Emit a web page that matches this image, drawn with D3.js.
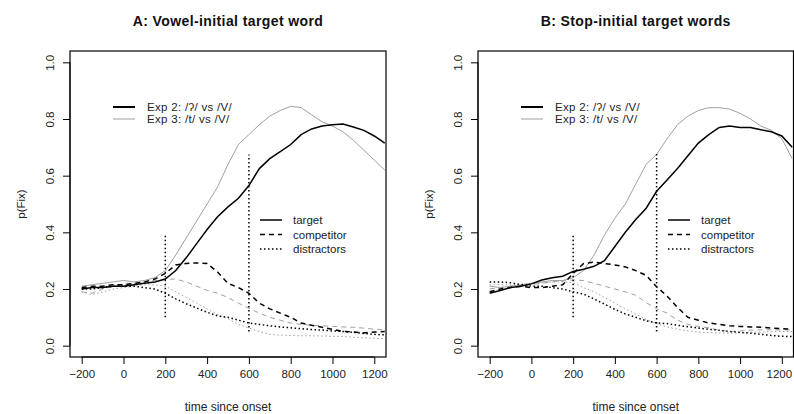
<!DOCTYPE html>
<html>
<head>
<meta charset="utf-8">
<script src="https://cdn.jsdelivr.net/npm/d3@7"></script>
<style>
  body { margin: 0; background: #fff; }
  svg { display: block; font-family: "Liberation Sans", Arial, sans-serif; }
</style>
</head>
<body>
<svg width="794" height="414"></svg>
<script>
// time since onset (ms), one sample every 50 ms
const times = [-200, -150, -100, -50, 0, 50, 100, 150, 200, 250, 300, 350, 400, 450, 500,
    550, 600, 650, 700, 750, 800, 850, 900, 950, 1000, 1050, 1100, 1150, 1200, 1250];

// panel A: vowel-initial target word
const aTarget2 = [0.20, 0.205, 0.205, 0.21, 0.21, 0.215, 0.22, 0.225, 0.235, 0.265, 0.31, 0.36, 0.41, 0.455, 0.49,
    0.52, 0.565, 0.625, 0.66, 0.685, 0.71, 0.745, 0.765, 0.775, 0.78, 0.782, 0.772, 0.76, 0.74, 0.715];
const aTarget3 = [0.21, 0.215, 0.22, 0.225, 0.23, 0.225, 0.23, 0.24, 0.265, 0.32, 0.38, 0.44, 0.50, 0.56, 0.64,
    0.71, 0.745, 0.78, 0.81, 0.83, 0.845, 0.84, 0.815, 0.79, 0.775, 0.755, 0.725, 0.69, 0.655, 0.62];
const aComp2 = [0.205, 0.21, 0.21, 0.215, 0.215, 0.22, 0.225, 0.235, 0.255, 0.285, 0.29, 0.292, 0.29, 0.26, 0.22,
    0.205, 0.185, 0.15, 0.13, 0.115, 0.10, 0.08, 0.072, 0.065, 0.058, 0.05, 0.048, 0.045, 0.048, 0.05];
const aComp3 = [0.19, 0.185, 0.20, 0.21, 0.215, 0.22, 0.225, 0.23, 0.235, 0.235, 0.225, 0.21, 0.195, 0.185, 0.17,
    0.15, 0.132, 0.115, 0.10, 0.09, 0.08, 0.075, 0.072, 0.07, 0.068, 0.066, 0.065, 0.062, 0.058, 0.056];
const aDist2 = [0.20, 0.20, 0.205, 0.21, 0.21, 0.21, 0.205, 0.20, 0.185, 0.165, 0.148, 0.133, 0.118, 0.105, 0.10,
    0.09, 0.08, 0.075, 0.07, 0.066, 0.063, 0.06, 0.057, 0.055, 0.052, 0.05, 0.047, 0.043, 0.04, 0.038];
const aDist3 = [0.19, 0.18, 0.19, 0.20, 0.205, 0.21, 0.215, 0.215, 0.21, 0.19, 0.17, 0.15, 0.13, 0.11, 0.095,
    0.075, 0.062, 0.05, 0.04, 0.037, 0.036, 0.035, 0.035, 0.034, 0.033, 0.032, 0.03, 0.028, 0.026, 0.025];

// panel B: stop-initial target words
const bTarget2 = [0.185, 0.195, 0.205, 0.21, 0.218, 0.232, 0.24, 0.245, 0.262, 0.27, 0.28, 0.30, 0.35, 0.40, 0.445,
    0.485, 0.545, 0.585, 0.625, 0.67, 0.715, 0.745, 0.77, 0.775, 0.77, 0.77, 0.762, 0.755, 0.74, 0.70];
const bTarget3 = [0.21, 0.205, 0.21, 0.215, 0.22, 0.225, 0.23, 0.23, 0.24, 0.265, 0.32, 0.39, 0.45, 0.50, 0.57,
    0.64, 0.675, 0.73, 0.78, 0.81, 0.83, 0.84, 0.84, 0.835, 0.82, 0.80, 0.775, 0.76, 0.73, 0.66];
const bComp2 = [0.19, 0.20, 0.205, 0.21, 0.205, 0.205, 0.21, 0.215, 0.255, 0.29, 0.295, 0.29, 0.285, 0.278, 0.265,
    0.248, 0.208, 0.175, 0.135, 0.10, 0.09, 0.08, 0.075, 0.07, 0.068, 0.066, 0.065, 0.062, 0.06, 0.058];
const bComp3 = [0.20, 0.205, 0.21, 0.212, 0.215, 0.22, 0.225, 0.228, 0.232, 0.23, 0.22, 0.21, 0.20, 0.19, 0.178,
    0.152, 0.13, 0.115, 0.09, 0.075, 0.068, 0.063, 0.055, 0.05, 0.052, 0.055, 0.056, 0.056, 0.056, 0.055];
const bDist2 = [0.225, 0.225, 0.222, 0.215, 0.21, 0.21, 0.205, 0.20, 0.19, 0.182, 0.165, 0.147, 0.128, 0.112, 0.10,
    0.088, 0.08, 0.078, 0.072, 0.067, 0.062, 0.058, 0.054, 0.05, 0.047, 0.044, 0.04, 0.036, 0.033, 0.032];
const bDist3 = [0.215, 0.215, 0.215, 0.218, 0.22, 0.222, 0.225, 0.225, 0.222, 0.205, 0.19, 0.17, 0.15, 0.13, 0.112,
    0.092, 0.078, 0.066, 0.058, 0.052, 0.048, 0.046, 0.045, 0.044, 0.045, 0.047, 0.048, 0.05, 0.05, 0.05];

const xTicks = [-200, 0, 200, 400, 600, 800, 1000, 1200];
const yTicks = [0, 0.2, 0.4, 0.6, 0.8, 1.0];
const expLabels = ["Exp 2: /ʔ/ vs /V/", "Exp 3: /t/ vs /V/"];
const roleLabels = ["target", "competitor", "distractors"];

// marker lines at 200 and 600 ms: [time, from, to]
const aMarks = [[200, 0.10, 0.395], [600, 0.05, 0.675]];
const bMarks = [[200, 0.10, 0.395], [600, 0.05, 0.68]];

const panels = [
    {id: "a", title: "A: Vowel-initial target word", left: 70, width: 316,
        series: [[aTarget2, aTarget3], [aComp2, aComp3], [aDist2, aDist3]], marks: aMarks},
    {id: "b", title: "B:  Stop-initial target words", left: 478, width: 315.5,
        series: [[bTarget2, bTarget3], [bComp2, bComp3], [bDist2, bDist3]], marks: bMarks}
];

const svg = d3.select("svg");
const plotTop = 51, plotBottom = 357;
const dashes = [null, "5,4", "1.5,2.5"];
const expColor = ["#000", "#a0a0a0"];
const expWidth = [1.5, 1];

panels.forEach(p => {
    const x = d3.scaleLinear().domain([-256, 1256]).range([p.left, p.left + p.width]);
    const y = d3.scaleLinear().domain([-0.04, 1.04]).range([plotBottom, plotTop]);
    const g = svg.append("g");

    g.append("clipPath").attr("id", "clip-" + p.id)
        .append("rect").attr("x", p.left).attr("y", plotTop)
        .attr("width", p.width).attr("height", plotBottom - plotTop);

    g.append("text")
        .attr("x", p.left + p.width / 2).attr("y", 26)
        .attr("text-anchor", "middle")
        .style("font-size", "14px").style("font-weight", "bold")
        .style("letter-spacing", "0.4px").attr("fill", "#111")
        .text(p.title);

    const line = d3.line()
        .x((d, i) => x(times[i]))
        .y(d => y(d));

    const plot = g.append("g").attr("clip-path", "url(#clip-" + p.id + ")");

    // grey (Exp 3) first, black (Exp 2) on top
    [1, 0].forEach(e => {
        p.series.forEach((pair, r) => {
            plot.append("path")
                .attr("d", line(pair[e]))
                .attr("fill", "none")
                .attr("stroke", expColor[e])
                .attr("stroke-width", expWidth[e])
                .attr("stroke-dasharray", dashes[r]);
        });
    });

    p.marks.forEach(m => {
        plot.append("line")
            .attr("x1", x(m[0])).attr("x2", x(m[0]))
            .attr("y1", y(m[1])).attr("y2", y(m[2]))
            .attr("stroke", "#000").attr("stroke-width", 1.5)
            .attr("stroke-dasharray", "1.5,2.5");
    });

    // frame
    g.append("rect")
        .attr("x", p.left).attr("y", plotTop)
        .attr("width", p.width).attr("height", plotBottom - plotTop)
        .attr("fill", "none").attr("stroke", "#000").attr("stroke-width", 1.2);

    // axes
    const xAxis = g.append("g").attr("transform", "translate(0," + plotBottom + ")")
        .call(d3.axisBottom(x).tickValues(xTicks).tickFormat(d3.format("d"))
            .tickSize(7).tickPadding(6).tickSizeOuter(0));
    xAxis.select(".domain").attr("d", "M" + x(-200) + ",0H" + x(1200));
    xAxis.selectAll("text").style("font-size", "11.5px").attr("fill", "#222")
        .attr("dx", d => (p.id === "b" && d === 1200) ? -3 : 0);

    const yAxis = g.append("g").attr("transform", "translate(" + p.left + ",0)")
        .call(d3.axisLeft(y).tickValues(yTicks).tickFormat(d3.format(".1f")).tickSize(7).tickSizeOuter(0));
    yAxis.select(".domain").attr("d", "M0," + y(0) + "V" + y(1));
    yAxis.selectAll("text")
        .style("font-size", "11.5px").attr("fill", "#222")
        .attr("x", null).attr("dy", null)
        .attr("text-anchor", "middle")
        .attr("transform", "translate(-16,0) rotate(-90)");

    g.append("text")
        .attr("transform", "translate(" + (p.left - 45) + "," + ((plotTop + plotBottom) / 2) + ") rotate(-90)")
        .attr("text-anchor", "middle")
        .style("font-size", "11.5px").attr("fill", "#222")
        .text("p(Fix)");

    g.append("text")
        .attr("x", x((-200 + 1200) / 2)).attr("y", 411)
        .attr("text-anchor", "middle")
        .style("font-size", "12px").attr("fill", "#222")
        .text("time since onset");

    // experiment legend
    const lx = p.left + 43;
    expLabels.forEach((t, i) => {
        const ly = 107 + i * 12;
        g.append("line").attr("x1", lx).attr("x2", lx + 22).attr("y1", ly).attr("y2", ly)
            .attr("stroke", expColor[i]).attr("stroke-width", i === 0 ? 2 : 1);
        g.append("text").attr("x", lx + 34).attr("y", ly + 4)
            .style("font-size", "11.5px").style("letter-spacing", "0.3px")
            .attr("fill", "#222").text(t);
    });

    // role legend
    const rx = p.left + 190;
    roleLabels.forEach((t, i) => {
        const ly = 220 + i * 14.5;
        g.append("line").attr("x1", rx).attr("x2", rx + 22).attr("y1", ly).attr("y2", ly)
            .attr("stroke", "#000").attr("stroke-width", 1.5)
            .attr("stroke-dasharray", dashes[i]);
        g.append("text").attr("x", rx + 33).attr("y", ly + 4)
            .style("font-size", "11.5px").attr("fill", "#222").text(t);
    });
});
</script>
</body>
</html>
